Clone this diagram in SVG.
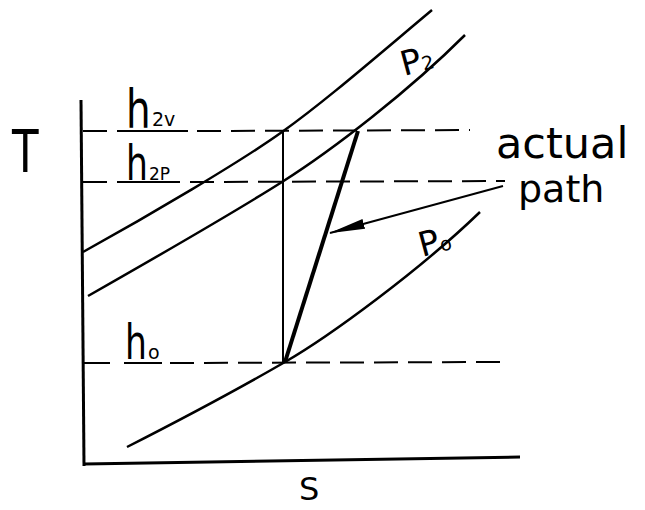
<svg xmlns="http://www.w3.org/2000/svg" width="645" height="510" viewBox="0 0 645 510">
<style>
.ax{stroke:#000;stroke-width:3;fill:none}
.cv{stroke:#000;stroke-width:2.5;fill:none}
.dash{stroke:#000;stroke-width:2;fill:none}
.dd{stroke:#000;stroke-width:2;fill:none;stroke-dasharray:24,10}
.t{font-family:"DejaVu Sans","Liberation Sans",sans-serif;fill:#000}
</style>
<defs>
<marker id="ah" markerWidth="36" markerHeight="12" refX="35" refY="6" orient="auto" markerUnits="userSpaceOnUse"><path d="M0,1 L36,6 L0,11 Z" fill="#000"/></marker>
</defs>
<rect width="645" height="510" fill="#fff"/>
<g id="axes">
<path class="ax" d="M81,100 L84,466"/>
<path class="ax" d="M84,464 L520,457"/>
<text class="t" transform="translate(12,172) scale(0.75,1)" font-size="58">T</text>
<text class="t" x="299" y="500" font-size="32">S</text>
</g>
<g id="levels">
<path class="dash" d="M83,131 L107,131 M117,131 L188,131"/>
<path class="dd" d="M197,131 L470,130"/>
<path class="dash" d="M83,182 L107,182 M117,182 L180,182"/>
<path class="dd" d="M190,182 L505,181"/>
<path class="dash" d="M83,363 L110,363 M124,363 L162,363"/>
<path class="dd" d="M170,363 L500,362"/>
<text class="t" transform="translate(126,128) scale(0.72,1)" font-size="54">h</text>
<text class="t" x="152" y="126" font-size="19">2v</text>
<text class="t" transform="translate(126,180) scale(0.72,1)" font-size="48">h</text>
<text class="t" x="149" y="180" font-size="17">2P</text>
<text class="t" transform="translate(125,359) scale(0.72,1)" font-size="48">h</text>
<text class="t" x="148" y="359" font-size="19">o</text>
</g>
<g id="curves">
<path class="cv" d="M83,252 C150,215 240,162 282,132 S370,62 432,10" stroke-width="2"/>
<path class="cv" d="M88,296 C160,255 230,215 282,182 S410,90 465,35"/>
<path class="cv" d="M127,447 C180,420 240,388 285,362 S420,270 480,212"/>
<text class="t" transform="translate(404,76) rotate(-15)" font-size="34">P<tspan font-size="19">2</tspan></text>
<text class="t" transform="translate(422,257) rotate(-15)" font-size="34">P<tspan font-size="19">o</tspan></text>
</g>
<g id="connectors">
<path d="M283,131 L283,362" stroke="#000" stroke-width="2" fill="none"/>
<path d="M285,362 L358,131" stroke="#000" stroke-width="4" fill="none"/>
<path d="M503,186 L330,233" stroke="#000" stroke-width="2" fill="none" marker-end="url(#ah)"/>
</g>
<g id="label">
<text class="t" x="496" y="158" font-size="43">actual</text>
<text class="t" x="518" y="202" font-size="38">path</text>
</g>
</svg>
